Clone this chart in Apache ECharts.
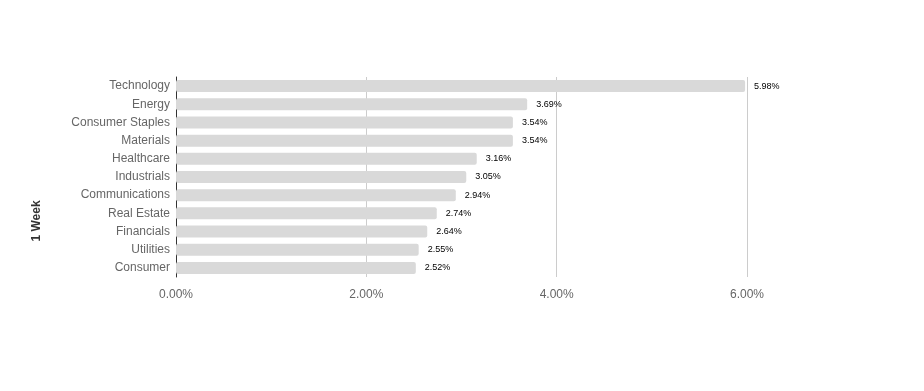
<!DOCTYPE html>
<html><head><meta charset="utf-8">
<script src="https://cdn.jsdelivr.net/npm/echarts@6/dist/echarts.min.js"></script>
<style>html,body{margin:0;padding:0;background:#fff}#c{width:924px;height:391px}</style>
</head><body><div id="c"></div>
<script>
const categories = ["Technology","Energy","Consumer Staples","Materials","Healthcare","Industrials","Communications","Real Estate","Financials","Utilities","Consumer"];
const values = [5.98,3.69,3.54,3.54,3.16,3.05,2.94,2.74,2.64,2.55,2.52];
const xTicks = [0,2,4,6];
const axisTitle = "1 Week";

const chart = echarts.init(document.getElementById('c'));
chart.setOption({
  animation:false,
  grid:{left:176,right:177,top:77,height:200,containLabel:false},
  xAxis:{type:'value',min:xTicks[0],max:xTicks[xTicks.length-1],interval:2,
    axisLine:{show:false},axisTick:{show:false},
    splitLine:{show:true,lineStyle:{color:'#cccccc',width:1}},
    axisLabel:{color:'#666',fontSize:12,fontFamily:'Liberation Sans, Arial',margin:12,
      formatter:v=>v.toFixed(2)+'%'}},
  yAxis:{type:'category',data:categories,inverse:true,
    axisLine:{show:true,lineStyle:{color:'#333',width:1}},
    axisTick:{show:false},
    axisLabel:{color:'#666',fontSize:12,fontFamily:'Liberation Sans, Arial',margin:6}},
  graphic:[{type:'text',x:37,y:221,rotation:Math.PI/2,
    style:{text:axisTitle,fill:'#333',font:'bold 12px Liberation Sans, Arial',align:'center',verticalAlign:'middle'}}],
  series:[{type:'bar',data:values,barWidth:12,
    itemStyle:{color:'#d9d9d9',borderRadius:2},
    label:{show:true,position:'right',distance:9,color:'#000',fontSize:9,fontFamily:'Liberation Sans, Arial',
      formatter:p=>p.value.toFixed(2)+'%'}}]
});
</script></body></html>
